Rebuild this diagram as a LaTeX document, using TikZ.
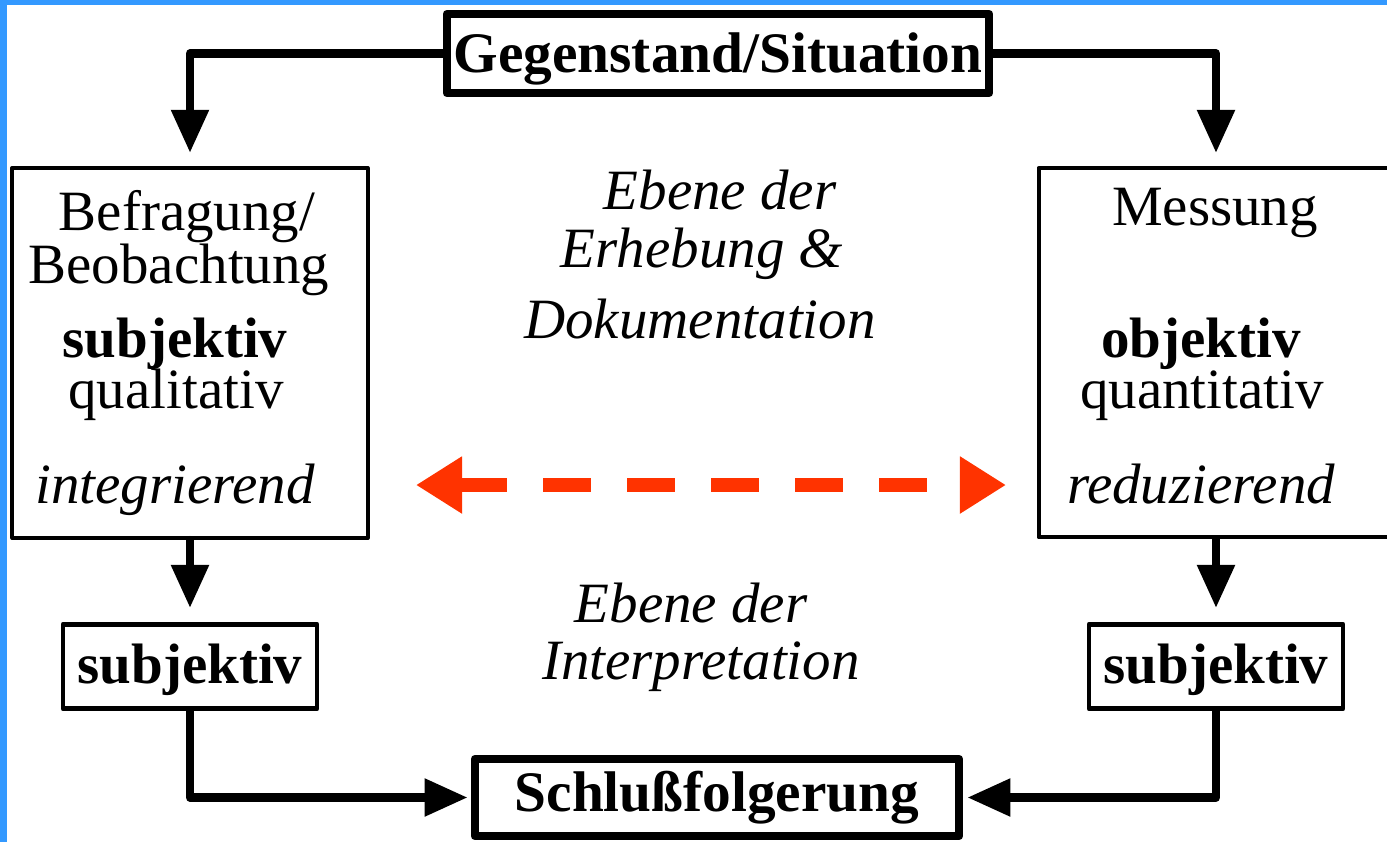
\documentclass[tikz,border=0pt]{standalone}
\usepackage{fontspec}
\setmainfont{Liberation Serif}
\usetikzlibrary{arrows.meta}

\definecolor{rahmenblau}{HTML}{3399FF}
\definecolor{pfeilrot}{HTML}{FF3300}

\begin{document}
\begin{tikzpicture}[
  x = 0.01cm, y = -0.01cm,
  > = {Triangle[length=0.43cm, width=0.36cm]},
  line join = round,
  font = \fontsize{16.2pt}{19pt}\selectfont
  ]

  \tikzstyle{dickbox}=[
  draw = black,
  line width = 2.4pt,
  fill = white,
  inner sep = 0pt,
  font = \fontsize{16.3pt}{19pt}\selectfont\bfseries
  ]
  \tikzstyle{duennbox}=[
  draw = black,
  line width = 1.15pt,
  inner sep = 0pt
  ]
  \tikzstyle{kleinbox}=[
  draw = black,
  line width = 1.3pt,
  inner sep = 0pt,
  minimum width = 2.54cm,
  minimum height = 0.844cm,
  text height = 0.38cm,
  text depth = 0.04cm,
  font = \fontsize{16.2pt}{19pt}\selectfont\bfseries
  ]
  \tikzstyle{zeile}=[
  anchor = base,
  inner sep = 0pt
  ]
  \tikzstyle{verbinder}=[
  ->,
  line width = 2.4pt,
  line cap = round
  ]

  % Rahmen
  \useasboundingbox (0,0) rectangle (1387,842);
  \fill[rahmenblau] (0,0) rectangle (7,842);
  \fill[rahmenblau] (0,0) rectangle (1387,5);

  % Kaesten
  \node[dickbox, minimum width=5.42cm, minimum height=0.79cm,
        text height=0.38cm, text depth=0.01cm] (gegen) at (718,53.5) {Gegenstand/Situation};
  \node[duennbox, minimum width=3.55cm, minimum height=3.70cm] (befrag) at (190,353) {};
  \node[duennbox, anchor=north west, minimum width=3.8cm, minimum height=3.69cm] (mess) at (1036.5,166) {};
  \node[kleinbox] (subl) at (190,666.5) {subjektiv};
  \node[kleinbox] (subr) at (1216,666.5) {subjektiv};
  \node[dickbox, minimum width=4.84cm, minimum height=0.77cm] (schluss) at (717,797.5) {Schlußfolgerung};

  % Text links
  \node[zeile] (l1) at (187,230) {Befragung/};
  \node[zeile] (l2) at (179,283) {Beobachtung};
  \node[zeile, font=\fontsize{16.2pt}{19pt}\selectfont\bfseries] (l3) at (175,357) {subjektiv};
  \node[zeile] (l4) at (176,408) {qualitativ};
  \node[zeile, font=\fontsize{16.2pt}{19pt}\selectfont\itshape] (l5) at (175,503) {integrierend};

  % Text rechts
  \node[zeile] (r1) at (1215,225) {Messung};
  \node[zeile, font=\fontsize{16.2pt}{19pt}\selectfont\bfseries] (r2) at (1201,357) {objektiv};
  \node[zeile] (r3) at (1202,408) {quantitativ};
  \node[zeile, font=\fontsize{16.2pt}{19pt}\selectfont\itshape] (r4) at (1201,503) {reduzierend};

  % Text Mitte
  \begin{scope}[font=\fontsize{16.2pt}{19pt}\selectfont\itshape]
  \node[zeile] (m1) at (720,209) {Ebene der};
  \node[zeile] (m2) at (702,267) {Erhebung \&};
  \node[zeile] (m3) at (700,338) {Dokumentation};
  \node[zeile] (m4) at (691,622) {Ebene der};
  \node[zeile] (m5) at (701,679) {Interpretation};
  \end{scope}

  % Pfeile
  \draw[verbinder, shorten >=0.13cm] (gegen.west) -| (befrag.north);
  \draw[verbinder, shorten >=0.13cm] (gegen.east) -| (subr |- mess.north);
  \draw[verbinder, shorten >=0.14cm] (befrag.south) -- (subl.north);
  \draw[verbinder, shorten >=0.14cm] (subr |- mess.south) -- (subr.north);
  \draw[verbinder, shorten >=0.03cm] (subl.south) |- (schluss.west);
  \draw[verbinder, shorten >=0.04cm] (subr.south) |- (schluss.east);

  \coordinate (pl) at (416,485);
  \coordinate (pr) at (1006,485);
  \draw[pfeilrot, line width=0.14cm, dash pattern=on 0.48cm off 0.36cm,
        {Triangle[length=0.46cm, width=0.54cm]}-{Triangle[length=0.46cm, width=0.54cm]}] (pl) -- (pr);

\end{tikzpicture}
\end{document}
